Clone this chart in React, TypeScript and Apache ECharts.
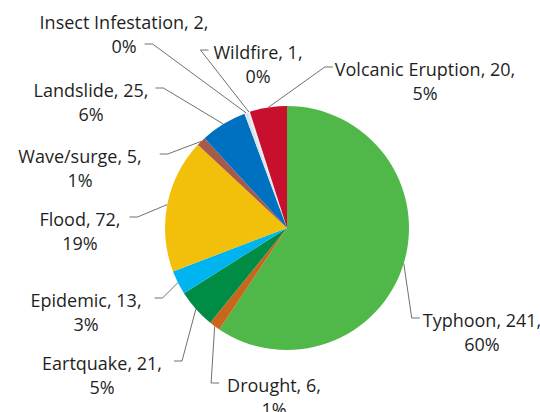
import React, { useEffect, useRef } from "react";
import * as echarts from "echarts";

const categories = [
  "Typhoon",
  "Drought",
  "Eartquake",
  "Epidemic",
  "Flood",
  "Wave/surge",
  "Landslide",
  "Insect Infestation",
  "Wildfire",
  "Volcanic Eruption",
];
const counts = [241, 6, 21, 13, 72, 5, 25, 2, 1, 20];
const percents = [60, 1, 5, 3, 19, 1, 6, 0, 0, 5];
const colors = [
  "#50b848",
  "#c8661c",
  "#008c45",
  "#00b5ef",
  "#f2bf0a",
  "#a65a4a",
  "#0070c0",
  "#dfe3ea",
  "#eef0f4",
  "#c8102e",
];

// ---- layout only (label block centres and leader attachment) ----
const FONT_SIZE = 18;
const FONT_FAMILY = "Open Sans";
const LINE_H = 24;
const STUB = 8;
const labelAnchors: [number, number][] = [
  [482, 332],
  [274, 397],
  [102, 375],
  [86, 312],
  [80, 231],
  [80, 168],
  [91, 102],
  [124, 34],
  [258, 64],
  [425, 81],
];
// side of the text the leader attaches to, which text line, gap to text
const labelAttach: { side: "left" | "right"; line: number; gap: number }[] = [
  { side: "left", line: 0, gap: 3 },
  { side: "left", line: 0, gap: 8 },
  { side: "right", line: 0, gap: 12 },
  { side: "right", line: 0, gap: 13 },
  { side: "right", line: 0, gap: 9 },
  { side: "right", line: 0, gap: 18 },
  { side: "right", line: 0, gap: 7 },
  { side: "right", line: 1, gap: 8 },
  { side: "left", line: 0, gap: 5 },
  { side: "left", line: 0, gap: 2 },
];

function labelLinesOf(i: number): string[] {
  return [`${categories[i]}, ${counts[i]},`, `${percents[i]}%`];
}

let measureCtx: CanvasRenderingContext2D | null = null;
function textWidth(s: string): number {
  if (!measureCtx) {
    measureCtx = document.createElement("canvas").getContext("2d");
  }
  if (!measureCtx) return s.length * FONT_SIZE * 0.55;
  measureCtx.font = `${FONT_SIZE}px '${FONT_FAMILY}'`;
  return measureCtx.measureText(s).width;
}

export default function App() {
  const ref = useRef<HTMLDivElement>(null);
  useEffect(() => {
    if (!ref.current) return;
    const chart = echarts.init(ref.current, null, { renderer: "svg" });
    chart.setOption({
      animation: false,
      backgroundColor: "#ffffff",
      series: [
        {
          type: "pie",
          center: [287, 228],
          radius: 122,
          startAngle: 90,
          clockwise: true,
          avoidLabelOverlap: false,
          data: categories.map((name, i) => ({
            name,
            value: counts[i],
            itemStyle: { color: colors[i] },
          })),
          label: {
            show: true,
            formatter: (p: any) => labelLinesOf(p.dataIndex).join("\n"),
            fontFamily: FONT_FAMILY,
            fontSize: FONT_SIZE,
            lineHeight: LINE_H,
            color: "#1f1f1f",
          },
          labelLine: {
            show: true,
            length: 10,
            length2: 6,
            lineStyle: { color: "#404040", width: 0.75 },
          },
          labelLayout: (params: any) => {
            const i = params.dataIndex;
            const [cx, cy] = labelAnchors[i];
            const cfg = labelAttach[i];
            const w = textWidth(labelLinesOf(i)[cfg.line]);
            const sign = cfg.side === "left" ? -1 : 1;
            const ay = cy + (cfg.line - 0.5) * LINE_H - 2;
            const ax = cx + sign * (w / 2 + cfg.gap);
            const bx = ax + sign * STUB;
            const start =
              params.labelLinePoints && params.labelLinePoints[0]
                ? params.labelLinePoints[0]
                : [bx, ay];
            return {
              x: cx,
              y: cy,
              align: "center",
              verticalAlign: "middle",
              labelLinePoints: [start, [bx, ay], [ax, ay]],
            };
          },
        },
      ],
    });
    return () => chart.dispose();
  }, []);
  return (
    <div
      ref={ref}
      style={{ position: "fixed", left: 0, top: 0, width: 540, height: 412 }}
    />
  );
}
